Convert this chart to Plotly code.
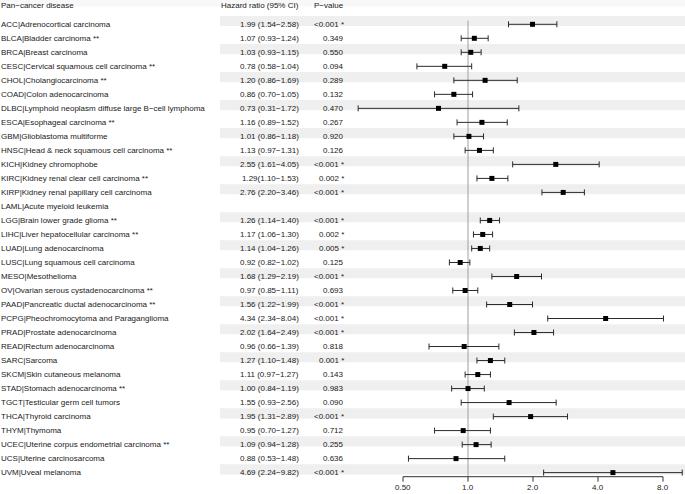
import math
import plotly.graph_objects as go

# ---------------- data ----------------
codes = ["ACC", "BLCA", "BRCA", "CESC", "CHOL", "COAD", "DLBC", "ESCA", "GBM", "HNSC",
         "KICH", "KIRC", "KIRP", "LAML", "LGG", "LIHC", "LUAD", "LUSC", "MESO", "OV",
         "PAAD", "PCPG", "PRAD", "READ", "SARC", "SKCM", "STAD", "TGCT", "THCA", "THYM",
         "UCEC", "UCS", "UVM"]
names = ["Adrenocortical carcinoma", "Bladder carcinoma **", "Breast carcinoma",
         "Cervical squamous cell carcinoma **", "Cholangiocarcinoma **", "Colon adenocarcinoma",
         "Lymphoid neoplasm diffuse large B−cell lymphoma", "Esophageal carcinoma **",
         "Glioblastoma multiforme", "Head & neck squamous cell carcinoma **", "Kidney chromophobe",
         "Kidney renal clear cell carcinoma **", "Kidney renal papillary cell carcinoma",
         "Acute myeloid leukemia", "Brain lower grade glioma **", "Liver hepatocellular carcinoma **",
         "Lung adenocarcinoma", "Lung squamous cell carcinoma", "Mesothelioma",
         "Ovarian serous cystadenocarcinoma **", "Pancreatic ductal adenocarcinoma **",
         "Pheochromocytoma and Paraganglioma", "Prostate adenocarcinoma", "Rectum adenocarcinoma",
         "Sarcoma", "Skin cutaneous melanoma", "Stomach adenocarcinoma **",
         "Testicular germ cell tumors", "Thyroid carcinoma", "Thymoma",
         "Uterine corpus endometrial carcinoma **", "Uterine carcinosarcoma", "Uveal melanoma"]
hr = [1.99, 1.07, 1.03, 0.78, 1.20, 0.86, 0.73, 1.16, 1.01, 1.13, 2.55, 1.29, 2.76, None,
      1.26, 1.17, 1.14, 0.92, 1.68, 0.97, 1.56, 4.34, 2.02, 0.96, 1.27, 1.11, 1.00, 1.55,
      1.95, 0.95, 1.09, 0.88, 4.69]
lower = [1.54, 0.93, 0.93, 0.58, 0.86, 0.70, 0.31, 0.89, 0.86, 0.97, 1.61, 1.10, 2.20, None,
         1.14, 1.06, 1.04, 0.82, 1.29, 0.85, 1.22, 2.34, 1.64, 0.66, 1.10, 0.97, 0.84, 0.93,
         1.31, 0.70, 0.94, 0.53, 2.24]
upper = [2.58, 1.24, 1.15, 1.04, 1.69, 1.05, 1.72, 1.52, 1.18, 1.31, 4.05, 1.53, 3.46, None,
         1.40, 1.30, 1.26, 1.02, 2.19, 1.11, 1.99, 8.04, 2.49, 1.39, 1.48, 1.27, 1.19, 2.56,
         2.89, 1.27, 1.28, 1.48, 9.82]
hr_text = ["1.99 (1.54−2.58)", "1.07 (0.93−1.24)", "1.03 (0.93−1.15)", "0.78 (0.58−1.04)",
           "1.20 (0.86−1.69)", "0.86 (0.70−1.05)", "0.73 (0.31−1.72)", "1.16 (0.89−1.52)",
           "1.01 (0.86−1.18)", "1.13 (0.97−1.31)", "2.55 (1.61−4.05)", "1.29(1.10−1.53)",
           "2.76 (2.20−3.46)", "", "1.26 (1.14−1.40)", "1.17 (1.06−1.30)", "1.14 (1.04−1.26)",
           "0.92 (0.82−1.02)", "1.68 (1.29−2.19)", "0.97 (0.85−1.11)", "1.56 (1.22−1.99)",
           "4.34 (2.34−8.04)", "2.02 (1.64−2.49)", "0.96 (0.66−1.39)", "1.27 (1.10−1.48)",
           "1.11 (0.97−1.27)", "1.00 (0.84−1.19)", "1.55 (0.93−2.56)", "1.95 (1.31−2.89)",
           "0.95 (0.70−1.27)", "1.09 (0.94−1.28)", "0.88 (0.53−1.48)", "4.69 (2.24−9.82)"]
p_text = ["<0.001 *", "0.349", "0.550", "0.094", "0.289", "0.132", "0.470", "0.267", "0.920",
          "0.126", "<0.001 *", "0.002 *", "<0.001 *", "", "<0.001 *", "0.002 *", "0.005 *",
          "0.125", "<0.001 *", "0.693", "<0.001 *", "<0.001 *", "<0.001 *", "0.818", "0.001 *",
          "0.143", "0.983", "0.090", "<0.001 *", "0.712", "0.255", "0.636", "<0.001 *"]
headers = ["Pan−cancer disease", "Hazard ratio (95% CI)", "P−value"]
tick_vals = [0.5, 1, 2, 4, 8]
tick_text = ["0.50", "1.0", "2.0", "4.0", "8.0"]

# ---------------- layout geometry ----------------
W, H = 685, 494
row_px0, row_step = 24.3, 14.01          # pixel centre of first row, row spacing
px_per_doubling, px_one = 65.0, 468.0      # x scale: pixels per doubling, pixel of HR = 1
axis_px = 476.7                            # pixel y of the x axis line

def px_to_row(py):
    return (py - row_px0) / row_step

yrange = [px_to_row(H), px_to_row(0)]
xrange = [math.log10(2) * (0 - px_one) / px_per_doubling,
          math.log10(2) * (W - px_one) / px_per_doubling]

FONT = "Liberation Sans, Arial, Helvetica, sans-serif"
TXT = "#1a1a1a"
AX = "#333333"

rows = list(range(len(codes)))
fig = go.Figure()

# points with CIs
ep = [None if h is None else u - h for h, u in zip(hr, upper)]
em = [None if h is None else h - l for h, l in zip(hr, lower)]
fig.add_trace(go.Scatter(
    x=hr, y=rows, mode="markers",
    marker=dict(symbol="square", size=5, color="black"),
    error_x=dict(type="data", symmetric=False, array=ep, arrayminus=em,
                 color="#2b2b2b", thickness=1, width=3),
    hoverinfo="skip", showlegend=False, cliponaxis=False))

shapes = []
# header band
shapes.append(dict(type="rect", xref="paper", yref="y", x0=0, x1=1,
                   y0=px_to_row(-3), y1=px_to_row(6.5),
                   fillcolor="#f8f8f8", line=dict(width=0), layer="below"))
# alternating row bands
for i in rows:
    if i % 2 == 0:
        shapes.append(dict(type="rect", xref="paper", yref="y", x0=220 / W, x1=1,
                           y0=i - 0.59, y1=i + 0.13,
                           fillcolor="#efefef", line=dict(width=0), layer="below"))
# reference line at HR = 1
shapes.append(dict(type="line", xref="x", yref="y", x0=1, x1=1,
                   y0=px_to_row(20.7), y1=px_to_row(axis_px),
                   line=dict(color="#a0a0a0", width=1), layer="below"))
# x axis line and ticks (data coords on the log axis)
ay = px_to_row(axis_px)
shapes.append(dict(type="line", xref="x", yref="y", x0=tick_vals[0], x1=tick_vals[-1],
                   y0=ay, y1=ay, line=dict(color=AX, width=1)))
for v in tick_vals:
    shapes.append(dict(type="line", xref="x", yref="y", x0=v, x1=v,
                       y0=ay, y1=px_to_row(axis_px + 5), line=dict(color=AX, width=1)))

annotations = []
def ann(text, x, y, anchor, xref="paper"):
    annotations.append(dict(text=text, x=x, y=y, xref=xref, yref="y",
                            xanchor=anchor, yanchor="middle", showarrow=False,
                            borderpad=0, borderwidth=0,
                            font=dict(family=FONT, size=8, color=TXT)))

hy = px_to_row(5.5)
ann(headers[0], 1 / W, hy, "left")
ann(headers[1], 299 / W, hy, "right")
ann(headers[2], 344 / W, hy, "right")
for i in rows:
    ann(f"{codes[i]}|{names[i]}", 1 / W, i, "left")
    if hr_text[i]:
        ann(hr_text[i], 299 / W, i, "right")
    if p_text[i]:
        ann(p_text[i], 344 / W, i, "right")
# tick labels (annotation x on a log axis is given in log10 units)
for v, t in zip(tick_vals, tick_text):
    ann(t, math.log10(v), px_to_row(487.5), "center", xref="x")

fig.update_layout(
    width=W, height=H, margin=dict(l=0, r=0, t=0, b=0),
    paper_bgcolor="white", plot_bgcolor="white",
    shapes=shapes, annotations=annotations,
    xaxis=dict(type="log", range=xrange, domain=[0, 1], visible=False, fixedrange=True),
    yaxis=dict(range=yrange, visible=False, fixedrange=True),
)

fig.write_html("out.html", config={"displayModeBar": False, "staticPlot": True},
               post_script="document.body.style.margin='0';document.body.style.overflow='hidden';")
